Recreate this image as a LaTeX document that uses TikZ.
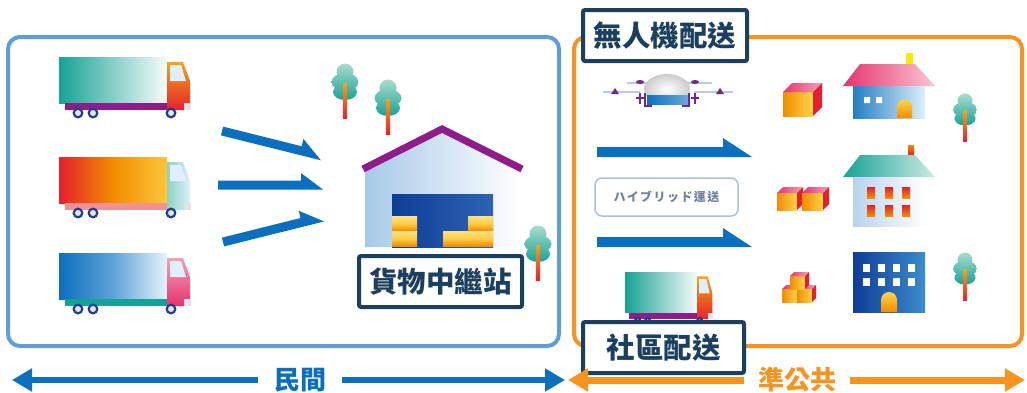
\documentclass[tikz,border=0pt]{standalone}
\usepackage{fontspec}
\newfontfamily\cjk{Noto Sans CJK TC}
\usetikzlibrary{arrows.meta}

\definecolor{arrowblue}{HTML}{0B6FBF}
\definecolor{boxblue}{HTML}{5E9DD6}
\definecolor{boxorange}{HTML}{F7931E}
\definecolor{navy}{HTML}{1B3F5F}
\definecolor{treetop}{HTML}{A9DCCF}
\definecolor{treebot}{HTML}{16A396}
\definecolor{trunktop}{HTML}{F6A31C}
\definecolor{trunkbot}{HTML}{E4232C}
\definecolor{wheelnavy}{HTML}{1E3F8E}
\definecolor{wheelhub}{HTML}{E2E6EE}
\definecolor{cabglass}{HTML}{DDF0FB}
\definecolor{bumper}{HTML}{E1E3E6}
\definecolor{roofpurple}{HTML}{8E1C8A}
\definecolor{doornavy}{HTML}{0E3D98}
\definecolor{parcelorange}{HTML}{F28C00}
\definecolor{parcelyellow}{HTML}{FFD44A}
\definecolor{parcelpink}{HTML}{E6336F}
\definecolor{parcellight}{HTML}{F6A0B6}
\definecolor{parcelred}{HTML}{E4202D}
\definecolor{hybridgrey}{HTML}{6D82A0}
\definecolor{hybridedge}{HTML}{AFC0D5}
\definecolor{dronepurple}{HTML}{6A2A8E}
\definecolor{rotor}{HTML}{BBC9E8}

\tikzset{
  tagbox/.style={draw=navy, line width=4pt, fill=white, rounded corners=2pt,
    text=navy, inner sep=0pt, minimum height=51pt,
    font=\cjk\bfseries\fontsize{28.5pt}{30pt}\selectfont},
  sidetext/.style={inner ysep=0pt, font=\cjk\bfseries\fontsize{26pt}{28pt}\selectfont},
  tree/.pic={
    \shade[top color=treetop, bottom color=treebot]
      (0,9) circle[radius=8.5pt]
      (0,19) ellipse[x radius=13.5pt, y radius=9pt]
      (0,29) ellipse[x radius=12pt, y radius=8pt];
    \shade[top color=trunktop, bottom color=trunkbot] (-2.2,20) rectangle (2.2,55);
  },
  boxpile/.style={top color=parcelyellow!70!white, bottom color=parcelorange, middle color=parcelyellow!90!parcelorange},
}

% truck drawn from the top-left corner of its load box
\newcommand\lorry[3]{%
  \shade[#1] (0,0) rectangle (108,46);
  \fill[#3] (6,46) rectangle (108,53);
  \shade[#2] (108,5) -- (124,5) -- (131,24) -- (131,46) -- (125,46) -- (125,53) -- (108,53) -- cycle;
  \fill[bumper] (125,46) rectangle (132,53);
  \fill[cabglass] (111,8) -- (122,8) -- (127,24) -- (111,24) -- cycle;
  \foreach \wx in {19,34,112}
    \draw[wheelnavy, line width=2.2pt, fill=wheelhub] (\wx,56) circle[radius=4.3pt];
}

% parcel: front top-left corner, width, height, depth
\newcommand\parcel[5]{%
  \begin{scope}[shift={(#1,#2)}]
    \shade[left color=parcelorange, right color=parcelyellow] (0,0) rectangle (#3,#4);
    \shade[left color=parcelpink, right color=parcellight] (0,0) -- (#5,-#5) -- (#3+#5,-#5) -- (#3,0) -- cycle;
    \fill[parcelred] (#3,0) -- (#3+#5,-#5) -- (#3+#5,#4-#5) -- (#3,#4) -- cycle;
  \end{scope}
}

% flat arrow with a single barb on its upper side
\newcommand\flatarrow[6]{%
  \fill[arrowblue, shift={#1}, rotate=#2]
    (0,-#4) -- (#3-#6,-#4) -- (#3-#6,-#5) -- (#3,#4) -- (0,#4) -- cycle;
}

\begin{document}
\begin{tikzpicture}[x=1pt, y=-1pt]
\useasboundingbox (0,0) rectangle (1027,392);

% the two regions
\draw[boxblue, line width=4pt, rounded corners=12pt] (8,37) rectangle (559,346);
\draw[boxorange, line width=4pt, rounded corners=12pt] (574,37) rectangle (1022,346);

% ---------- private side ----------
\begin{scope}[shift={(59,57)}]
  \lorry{left color=treebot, right color=white!90!treetop}{top color=trunktop, bottom color=trunkbot}{roofpurple}
\end{scope}
\begin{scope}[shift={(59,157)}]
  \lorry{left color=parcelred, right color=parcelyellow!80!parcelorange, middle color=parcelorange}{left color=treetop!80!treebot, right color=cabglass}{parcelred!50!white}
\end{scope}
\begin{scope}[shift={(59,253)}]
  \lorry{left color=arrowblue, right color=cabglass!80!white, middle color=arrowblue!60!cabglass}{top color=parcellight, bottom color=parcelpink}{treebot}
\end{scope}

\flatarrow{(222,131)}{-14}{103}{4.5}{12}{22}
\flatarrow{(218,185)}{0}{105}{4.5}{12}{22}
\flatarrow{(223,242)}{14}{103}{4.5}{12}{22}

\pic at (345,63) {tree};
\pic at (388,79) {tree};
\pic at (538,225) {tree};

% relay warehouse
\shade[left color=boxblue!55!white, right color=white] (365,169) -- (442,131) -- (520,169) -- (520,247) -- (365,247) -- cycle;
\shade[left color=doornavy, right color=doornavy!60!boxblue] (392,194) rectangle (493,247);
\foreach \bx/\by in {392/216, 392/231, 443/231, 468/216, 468/231}
  \shade[boxpile] (\bx,\by) rectangle (\bx+25,\by+15);
\draw[roofpurple, line width=7pt, line join=miter] (363,169) -- (442,129) -- (522,169);

\node[tagbox, minimum width=163pt] (relay) at (440.5,281.5) {貨物中繼站};

% ---------- semi-public side ----------
% drone
\draw[rotor, line width=1.3pt] (603,92) -- (640,92) (694,92) -- (733,92) (627,83) -- (658,83) (677,83) -- (712,83);
\shade[inner color=white, outer color=black!20] (667,89) ellipse[x radius=23pt, y radius=15pt];
\shade[left color=arrowblue, right color=arrowblue!60!white] (647,95) rectangle (688,104);
\draw[dronepurple, line width=1.6pt] (645,93) -- (645,106) -- (652,106) (689,93) -- (689,106) -- (682,106)
  (640,93) -- (640,104) (636,98) -- (644,98) (695,93) -- (695,104) (691,98) -- (699,98);
\fill[dronepurple] (640,82) ellipse[x radius=4pt, y radius=2pt] (695,82) ellipse[x radius=4pt, y radius=2pt]
  (611,94) -- (615,88) -- (619,94) -- cycle (716,94) -- (720,88) -- (724,94) -- cycle;

\flatarrow{(597,152)}{0}{155}{5}{14}{29}
\flatarrow{(597,242)}{0}{155}{5}{14}{29}

\node[draw=hybridedge, line width=1.5pt, rounded corners=7pt, fill=white,
      minimum width=143pt, minimum height=38pt, inner sep=0pt, text=hybridgrey,
      font=\cjk\bfseries\fontsize{12pt}{14pt}\selectfont\addfontfeatures{LetterSpace=12}]
  (hybrid) at (666.5,197) {ハイブリッド運送};

% community truck
\begin{scope}[shift={(625,272)}, xscale=0.667, yscale=0.89]
  \lorry{left color=treebot, right color=white!90!treetop}{top color=trunktop, bottom color=trunkbot}{roofpurple}
\end{scope}

% parcels
\parcel{783}{92}{30}{24}{9}
\parcel{777}{193}{20}{17}{6}
\parcel{802}{193}{21}{17}{6}
\parcel{782}{289}{15}{13}{4}
\parcel{797}{289}{15}{13}{4}
\parcel{790}{276}{15}{13}{4}

% detached house
\fill[yellow!90!orange] (906,53) rectangle (913,64);
\shade[left color=parcelpink, right color=parcellight!60!white] (843,86) -- (860,64) -- (915,64) -- (935,86) -- cycle;
\shade[left color=arrowblue!90!white, right color=cabglass] (853,86) rectangle (925,118);
\fill[white] (864,97) rectangle (870,103) (876,97) rectangle (882,103);
\shade[top color=parcelyellow, bottom color=parcelorange] (897,118) -- (897,107) arc[start angle=180, end angle=0, radius=7.5pt] -- (912,118) -- cycle;

% apartment house
\shade[top color=parcelorange, bottom color=parcelred] (908,145) rectangle (914,155);
\shade[left color=treebot, right color=treetop!60!white] (843,177) -- (860,155) -- (915,155) -- (935,177) -- cycle;
\shade[left color=boxblue!45!white, right color=white] (853,177) rectangle (925,226);
\foreach \wx in {867,885,902}
  \foreach \wy in {187,205}
    \shade[top color=parcelred, bottom color=parcelorange] (\wx,\wy) rectangle (\wx+8,\wy+11);

% office block
\shade[left color=doornavy, right color=arrowblue!80!white] (853,252) rectangle (925,312);
\foreach \wx in {863,878,893,908}
  \foreach \wy in {264,278}
    \fill[white] (\wx,\wy) rectangle (\wx+7,\wy+8);
\shade[top color=parcelyellow, bottom color=parcelorange] (881,312) -- (881,300) arc[start angle=180, end angle=0, radius=8pt] -- (897,312) -- cycle;

\pic[scale=0.88] at (965,93) {tree};
\pic[scale=0.88] at (965,252) {tree};

% delivery labels
\node[tagbox, minimum width=164pt] (drone) at (665,35.5) {無人機配送};
\node[tagbox, minimum width=161pt] (community) at (663.5,347.5) {社區配送};

% ---------- sector scale ----------
\node[sidetext, text=arrowblue, inner xsep=16pt] (private) at (300,380) {民間};
\coordinate (privL) at (12,380);
\coordinate (privR) at (565,380);
\draw[arrowblue, line width=6pt, -{Triangle[length=20pt, width=22pt]}] (private.west) -- (privL);
\draw[arrowblue, line width=6pt, -{Triangle[length=20pt, width=22pt]}] (private.east) -- (privR);

\node[sidetext, text=boxorange, inner xsep=14pt] (public) at (797,380) {準公共};
\coordinate (pubL) at (568,380);
\coordinate (pubR) at (1025,380);
\draw[boxorange, line width=7pt, -{Triangle[length=20pt, width=22pt]}] (public.west) -- (pubL);
\draw[boxorange, line width=7pt, -{Triangle[length=20pt, width=22pt]}] (public.east) -- (pubR);
\end{tikzpicture}
\end{document}
